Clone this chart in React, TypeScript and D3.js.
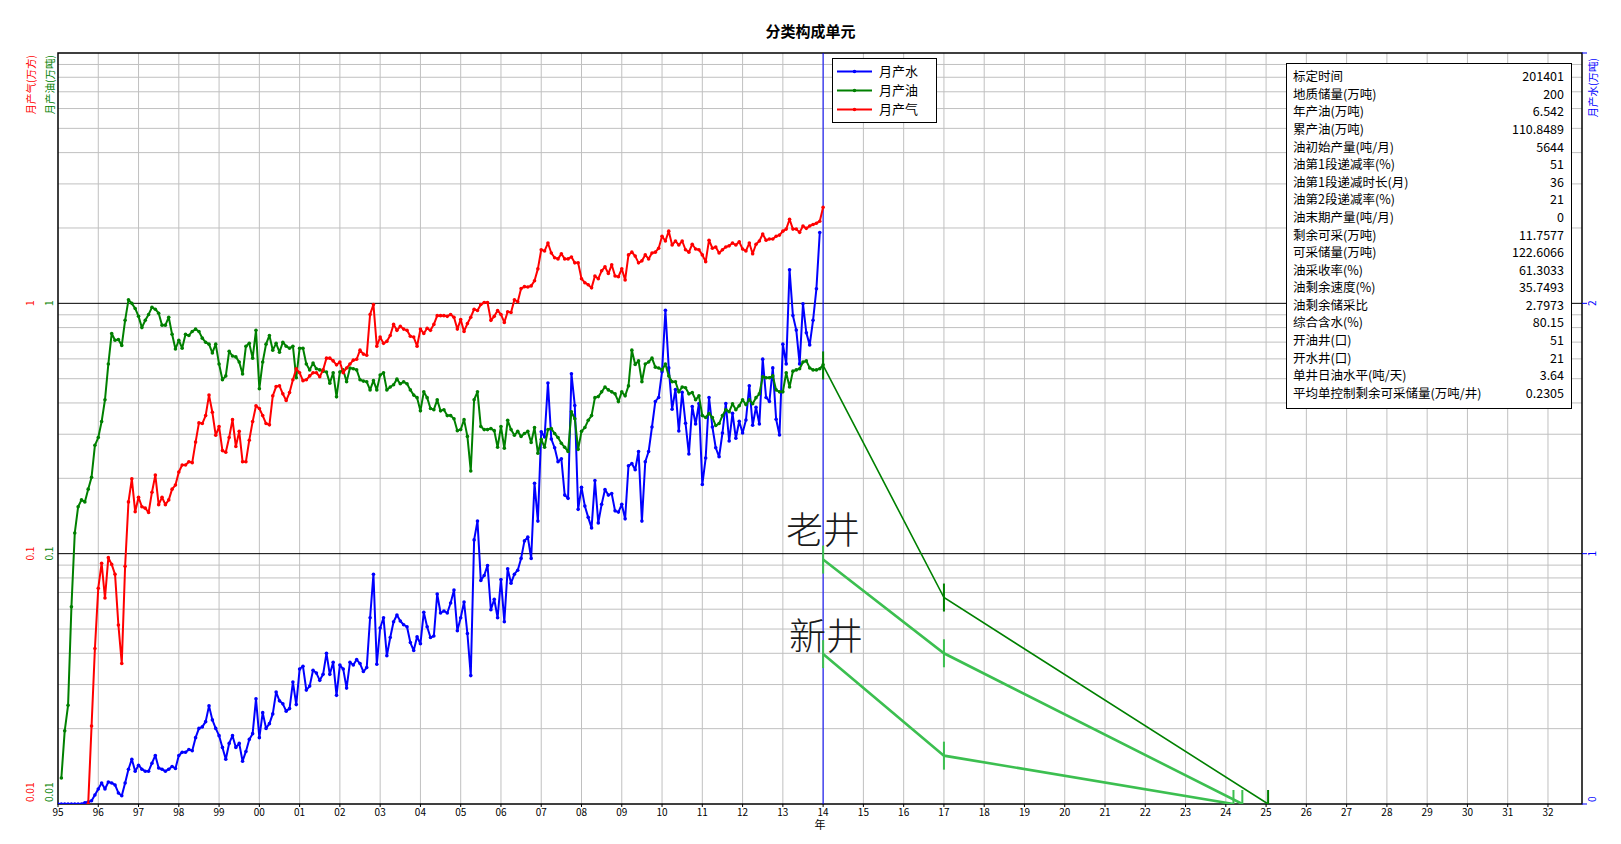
import { useEffect, useRef } from 'react';
import * as d3 from 'd3';

const FONT = '"Noto Sans CJK SC", "Microsoft YaHei", sans-serif';

// monthly series, index 0 = Jan 1995
const waterStart = 0;
const water = [
  0, 0, 0, 0, 0, 0, 0, 0, 0.005,
  0.008, 0.013, 0.036, 0.06, 0.084, 0.06, 0.088, 0.084, 0.076, 0.044, 0.033,
  0.084, 0.139, 0.179, 0.131, 0.155, 0.139, 0.131, 0.131, 0.163, 0.194,
  0.144, 0.139, 0.131, 0.139, 0.15, 0.142, 0.194, 0.207, 0.207, 0.218,
  0.213, 0.265, 0.302, 0.308, 0.329, 0.392, 0.336, 0.302, 0.273, 0.226,
  0.179, 0.242, 0.273, 0.226, 0.242, 0.171, 0.21, 0.258, 0.281, 0.42,
  0.265, 0.365, 0.302, 0.321, 0.36, 0.447, 0.412, 0.4, 0.371, 0.381,
  0.487, 0.397, 0.539, 0.55, 0.455, 0.471, 0.534, 0.523, 0.494, 0.518,
  0.602, 0.518, 0.566, 0.434, 0.555, 0.539, 0.463, 0.566, 0.555, 0.577,
  0.561, 0.529, 0.545, 0.744, 0.918, 0.558, 0.703, 0.744, 0.592, 0.665,
  0.728, 0.755, 0.731, 0.716, 0.708, 0.645, 0.613, 0.668, 0.64, 0.766,
  0.708, 0.665, 0.671, 0.839, 0.763, 0.771, 0.763, 0.803, 0.855, 0.692,
  0.744, 0.807, 0.681, 0.513, 1.055, 1.13, 0.893, 0.913, 0.953, 0.776,
  0.818, 0.744, 0.897, 0.728, 0.94, 0.882, 0.918, 0.934, 0.981, 1.051,
  1.066, 0.981, 1.281, 1.13, 1.487, 1.466, 1.682, 1.458, 1.423, 1.367,
  1.379, 1.234, 1.221, 1.719, 1.592, 1.177, 1.265, 1.19, 1.145, 1.103,
  1.292, 1.123, 1.197, 1.256, 1.234, 1.24, 1.171, 1.166, 1.197, 1.139,
  1.351, 1.36, 1.335, 1.408, 1.13, 1.367, 1.408, 1.506, 1.608, 1.624,
  1.727, 1.972, 1.742, 1.577, 1.656, 1.49, 1.645, 1.521, 1.398, 1.588,
  1.518, 1.6, 1.276, 1.382, 1.624, 1.506, 1.423, 1.387, 1.482, 1.6,
  1.45, 1.561, 1.461, 1.529, 1.482, 1.534, 1.671, 1.513, 1.585, 1.518,
  1.777, 1.624, 1.608, 1.742, 1.537, 1.474, 1.837, 1.758, 2.134, 1.951,
  1.893, 1.758, 1.998, 1.882, 1.834, 1.932, 2.058, 2.283,
];

const oilStart = 1;
const oil = [
  0.0127, 0.0196, 0.0248, 0.0613, 0.121, 0.154, 0.164, 0.161, 0.181, 0.202,
  0.271, 0.291, 0.337, 0.412, 0.572, 0.758, 0.712, 0.717, 0.679, 0.855,
  1.033, 1.0, 0.954, 0.887, 0.8, 0.855, 0.903, 0.964, 0.947, 0.913,
  0.818, 0.818, 0.88, 0.752, 0.657, 0.712, 0.662, 0.752, 0.744, 0.772,
  0.789, 0.772, 0.726, 0.699, 0.687, 0.634, 0.687, 0.572, 0.495, 0.513,
  0.643, 0.616, 0.611, 0.583, 0.522, 0.674, 0.692, 0.604, 0.78, 0.456,
  0.583, 0.687, 0.744, 0.65, 0.692, 0.638, 0.699, 0.674, 0.662, 0.674,
  0.504, 0.662, 0.662, 0.572, 0.542, 0.577, 0.548, 0.542, 0.536, 0.532,
  0.48, 0.528, 0.423, 0.532, 0.542, 0.486, 0.552, 0.548, 0.542, 0.495,
  0.489, 0.486, 0.451, 0.491, 0.451, 0.517, 0.528, 0.451, 0.463, 0.473,
  0.498, 0.477, 0.486, 0.477, 0.451, 0.43, 0.42, 0.372, 0.443, 0.42,
  0.38, 0.376, 0.412, 0.372, 0.376, 0.356, 0.356, 0.346, 0.31, 0.313,
  0.343, 0.294, 0.214, 0.412, 0.443, 0.322, 0.313, 0.313, 0.316, 0.31,
  0.266, 0.322, 0.264, 0.341, 0.313, 0.297, 0.308, 0.294, 0.302, 0.308,
  0.278, 0.319, 0.252, 0.286, 0.266, 0.313, 0.316, 0.302, 0.291, 0.276,
  0.266, 0.256, 0.369, 0.346, 0.261, 0.308, 0.319, 0.341, 0.356, 0.42,
  0.424, 0.443, 0.463, 0.451, 0.443, 0.435, 0.405, 0.443, 0.427, 0.468,
  0.65, 0.57, 0.589, 0.486, 0.572, 0.583, 0.604, 0.556, 0.552, 0.542,
  0.572, 0.513, 0.486, 0.486, 0.443, 0.463, 0.46, 0.435, 0.44, 0.412,
  0.427, 0.356, 0.35, 0.363, 0.35, 0.325, 0.331, 0.356, 0.376, 0.369,
  0.397, 0.376, 0.39, 0.412, 0.394, 0.412, 0.397, 0.42, 0.435, 0.509,
  0.504, 0.504, 0.513, 0.451, 0.443, 0.443, 0.528, 0.463, 0.536, 0.542,
  0.548, 0.583, 0.589, 0.552, 0.542, 0.542, 0.548, 0.568,
];

const gasStart = 9;
const gas = [
  0.01, 0.0205, 0.0418, 0.0728, 0.0916, 0.0665, 0.0964, 0.0906, 0.0827, 0.0519,
  0.0364, 0.089, 0.161, 0.199, 0.147, 0.168, 0.154, 0.152, 0.146, 0.176,
  0.206, 0.157, 0.168, 0.157, 0.164, 0.181, 0.188, 0.212, 0.226, 0.226,
  0.233, 0.231, 0.279, 0.333, 0.331, 0.356, 0.43, 0.367, 0.297, 0.322,
  0.258, 0.254, 0.291, 0.343, 0.268, 0.308, 0.233, 0.233, 0.284, 0.337,
  0.39, 0.38, 0.356, 0.331, 0.327, 0.427, 0.465, 0.468, 0.435, 0.409,
  0.44, 0.495, 0.548, 0.528, 0.491, 0.495, 0.513, 0.528, 0.528, 0.509,
  0.542, 0.604, 0.604, 0.589, 0.568, 0.583, 0.528, 0.552, 0.572, 0.593,
  0.598, 0.65, 0.627, 0.62, 0.903, 0.989, 0.674, 0.733, 0.692, 0.705,
  0.744, 0.824, 0.78, 0.809, 0.789, 0.78, 0.739, 0.733, 0.674, 0.789,
  0.758, 0.795, 0.78, 0.824, 0.893, 0.893, 0.893, 0.887, 0.903, 0.88,
  0.789, 0.861, 0.772, 0.83, 0.88, 0.947, 0.936, 0.989, 1.007, 1.007,
  0.855, 0.887, 0.936, 0.903, 0.839, 0.926, 0.919, 1.033, 1.015, 1.145,
  1.166, 1.162, 1.174, 1.231, 1.373, 1.637, 1.619, 1.741, 1.589, 1.521,
  1.505, 1.578, 1.505, 1.505, 1.532, 1.451, 1.451, 1.254, 1.209, 1.187,
  1.153, 1.286, 1.254, 1.349, 1.399, 1.315, 1.425, 1.286, 1.277, 1.373,
  1.24, 1.561, 1.601, 1.544, 1.451, 1.478, 1.561, 1.505, 1.589, 1.601,
  1.66, 1.853, 1.774, 1.942, 1.709, 1.774, 1.709, 1.774, 1.637, 1.601,
  1.722, 1.648, 1.637, 1.561, 1.467, 1.787, 1.66, 1.679, 1.589, 1.637,
  1.679, 1.697, 1.741, 1.709, 1.761, 1.648, 1.619, 1.741, 1.578, 1.722,
  1.774, 1.893, 1.787, 1.806, 1.806, 1.853, 1.873, 1.942, 1.979, 2.168,
  1.979, 1.979, 1.921, 2.037, 1.993, 2.037, 2.066, 2.09, 2.128, 2.418,
];

// decline forecasts (year, 万吨)
const oldWellYears = [2014, 2017, 2025.05];
const oldWellOil = [0.565, 0.0668, 0.01];
const newWellAYears = [2014, 2017, 2024.41];
const newWellAOil = [0.0947, 0.04, 0.01];
const newWellBYears = [2014, 2017, 2024.19];
const newWellBOil = [0.0397, 0.0156, 0.01];

const yearTicks = d3.range(1995, 2033);
const leftTicks = [0.01, 0.1, 1];
const rightTicks = [0, 1, 2];

const legendNames = ['月产水', '月产油', '月产气'];
const legendColors = ['#0000ff', '#008000', '#ff0000'];

const tableLabels = [
  '标定时间', '地质储量(万吨)', '年产油(万吨)', '累产油(万吨)', '油初始产量(吨/月)',
  '油第1段递减率(%)', '油第1段递减时长(月)', '油第2段递减率(%)', '油末期产量(吨/月)',
  '剩余可采(万吨)', '可采储量(万吨)', '油采收率(%)', '油剩余速度(%)', '油剩余储采比',
  '综合含水(%)', '开油井(口)', '开水井(口)', '单井日油水平(吨/天)', '平均单控制剩余可采储量(万吨/井)',
];
const tableValues = [
  '201401', '200', '6.542', '110.8489', '5644', '51', '36', '21', '0', '11.7577',
  '122.6066', '61.3033', '35.7493', '2.7973', '80.15', '51', '21', '3.64', '0.2305',
];

export default function App() {
  const svgRef = useRef<SVGSVGElement>(null);

  useEffect(() => {
    if (!svgRef.current) return;
    const width = 1621;
    const height = 844;
    const left = 58, right = 1582, top = 53, bottom = 804;

    const svg = d3.select(svgRef.current);
    svg.selectAll('*').remove();
    svg.attr('width', width).attr('height', height).style('font-family', FONT);

    const x = d3.scaleLinear().domain([1995, 2032.845]).range([left, right]);
    const yL = d3.scaleLog().domain([0.01, 10]).range([bottom, top]);
    const yR = d3.scaleLinear().domain([0, 3]).range([bottom, top]);

    svg.append('rect').attr('width', width).attr('height', height).attr('fill', '#fff');

    svg.append('defs').append('clipPath').attr('id', 'plot-clip')
      .append('rect').attr('x', left).attr('y', top).attr('width', right - left).attr('height', bottom - top);

    // Grid
    const grid = svg.append('g');
    grid.selectAll('line.v')
      .data(yearTicks.slice(1))
      .join('line')
      .attr('x1', (d) => x(d)).attr('x2', (d) => x(d))
      .attr('y1', top).attr('y2', bottom)
      .attr('stroke', '#c0c0c0').attr('stroke-width', 1);

    const minor: number[] = [];
    for (const dec of [0.01, 0.1, 1]) for (let k = 2; k <= 9; k++) minor.push(k * dec);
    grid.selectAll('line.h')
      .data(minor)
      .join('line')
      .attr('x1', left).attr('x2', right)
      .attr('y1', (d) => yL(d)).attr('y2', (d) => yL(d))
      .attr('stroke', '#c0c0c0').attr('stroke-width', 1);

    for (const v of [0.1, 1]) {
      grid.append('line')
        .attr('x1', left).attr('x2', right).attr('y1', yL(v)).attr('y2', yL(v))
        .attr('stroke', '#000').attr('stroke-width', 1);
    }

    // Border
    svg.append('rect')
      .attr('x', left).attr('y', top).attr('width', right - left).attr('height', bottom - top)
      .attr('fill', 'none').attr('stroke', '#000').attr('stroke-width', 1.5);

    // 2014 marker line
    svg.append('line')
      .attr('x1', x(2014)).attr('x2', x(2014)).attr('y1', top).attr('y2', bottom)
      .attr('stroke', '#0000ff').attr('stroke-width', 1);

    // X axis ticks & labels
    const xa = svg.append('g');
    xa.selectAll('line')
      .data(yearTicks)
      .join('line')
      .attr('x1', (d) => x(d)).attr('x2', (d) => x(d))
      .attr('y1', bottom).attr('y2', bottom + 3)
      .attr('stroke', '#000');
    xa.selectAll('text')
      .data(yearTicks)
      .join('text')
      .attr('x', (d) => x(d))
      .attr('y', bottom + 12)
      .attr('text-anchor', 'middle')
      .style('font-size', '10px')
      .text((d) => String(d % 100).padStart(2, '0'));
    svg.append('text')
      .attr('x', (left + right) / 2).attr('y', 829)
      .attr('text-anchor', 'middle').style('font-size', '11px').text('年');

    // Left tick labels (gas red, oil green)
    const leftAxes = [
      { x: 34, color: '#ff0000', title: '月产气(万方)' },
      { x: 53, color: '#008000', title: '月产油(万吨)' },
    ];
    for (const a of leftAxes) {
      for (const v of leftTicks) {
        const isBottom = v === 0.01;
        svg.append('text')
          .attr('transform', `translate(${a.x},${isBottom ? bottom - 2 : yL(v)}) rotate(-90)`)
          .attr('text-anchor', isBottom ? 'start' : 'middle')
          .attr('fill', a.color)
          .style('font-size', '10px')
          .text(String(v));
      }
      svg.append('text')
        .attr('transform', `translate(${a.x + 1},55) rotate(-90)`)
        .attr('text-anchor', 'end')
        .attr('fill', a.color)
        .style('font-size', '10.5px')
        .text(a.title);
    }

    // Right axis (water, linear)
    svg.selectAll('line.rt')
      .data([0, 1, 2, 3])
      .join('line')
      .attr('x1', right).attr('x2', right + 5)
      .attr('y1', (d) => yR(d)).attr('y2', (d) => yR(d))
      .attr('stroke', '#0000ff');
    for (const v of rightTicks) {
      const isBottom = v === 0;
      svg.append('text')
        .attr('transform', `translate(1596,${isBottom ? bottom - 2 : yR(v)}) rotate(-90)`)
        .attr('text-anchor', isBottom ? 'start' : 'middle')
        .attr('fill', '#0000ff')
        .style('font-size', '10px')
        .text(String(v));
    }
    svg.append('text')
      .attr('transform', 'translate(1597,58) rotate(-90)')
      .attr('text-anchor', 'end')
      .attr('fill', '#0000ff')
      .style('font-size', '10.5px')
      .text('月产水(万吨)');

    // Title
    svg.append('text')
      .attr('x', width / 2).attr('y', 37)
      .attr('text-anchor', 'middle')
      .style('font-size', '15px').style('font-weight', 'bold')
      .text('分类构成单元');

    // Series
    const plot = svg.append('g').attr('clip-path', 'url(#plot-clip)');
    const tYear = (t: number) => 1995 + t / 12;

    const series = [
      { data: water, start: waterStart, color: '#0000ff', y: yR },
      { data: oil, start: oilStart, color: '#008000', y: yL },
      { data: gas, start: gasStart, color: '#ff0000', y: yL },
    ];
    for (const s of series) {
      const pts = s.data.map((v, i) => [x(tYear(s.start + i)), s.y(v)] as [number, number]);
      plot.append('path')
        .attr('d', d3.line()(pts))
        .attr('fill', 'none').attr('stroke', s.color).attr('stroke-width', 2)
        .attr('stroke-linejoin', 'round');
      plot.append('g').selectAll('circle')
        .data(pts)
        .join('circle')
        .attr('cx', (d) => d[0]).attr('cy', (d) => d[1]).attr('r', 1.8)
        .attr('fill', s.color);
    }

    // Forecasts
    const forecasts = [
      { years: oldWellYears, vals: oldWellOil, color: '#008000', w: 1.6 },
      { years: newWellAYears, vals: newWellAOil, color: '#3cbf50', w: 2.6 },
      { years: newWellBYears, vals: newWellBOil, color: '#3cbf50', w: 2.6 },
    ];
    for (const f of forecasts) {
      const pts = f.years.map((yr, i) => [x(yr), yL(f.vals[i])] as [number, number]);
      plot.append('path')
        .attr('d', d3.line()(pts))
        .attr('fill', 'none').attr('stroke', f.color).attr('stroke-width', f.w);
      plot.append('g').selectAll('line')
        .data(pts)
        .join('line')
        .attr('x1', (d) => d[0]).attr('x2', (d) => d[0])
        .attr('y1', (d) => d[1] - 14).attr('y2', (d) => d[1] + 14)
        .attr('stroke', f.color).attr('stroke-width', 2);
    }

    svg.append('text')
      .attr('x', 786).attr('y', 544)
      .attr('fill', '#1a1a1a').style('font-size', '37px').style('font-weight', 300)
      .text('老井');
    svg.append('text')
      .attr('x', 789).attr('y', 650)
      .attr('fill', '#1a1a1a').style('font-size', '37px').style('font-weight', 300)
      .text('新井');

    // Legend
    const lg = svg.append('g');
    lg.append('rect')
      .attr('x', 832.5).attr('y', 58.5).attr('width', 104).attr('height', 64)
      .attr('fill', '#fff').attr('stroke', '#000');
    legendNames.forEach((name, i) => {
      const ly = 71.5 + i * 19;
      lg.append('line').attr('x1', 837).attr('x2', 872).attr('y1', ly).attr('y2', ly)
        .attr('stroke', legendColors[i]).attr('stroke-width', 2);
      lg.append('circle').attr('cx', 854.5).attr('cy', ly).attr('r', 1.8).attr('fill', legendColors[i]);
      lg.append('text').attr('x', 879).attr('y', ly + 4.5)
        .style('font-size', '13px').text(name);
    });

    // Info table
    const tb = svg.append('g');
    tb.append('rect')
      .attr('x', 1286.5).attr('y', 63.5).attr('width', 285).attr('height', 345)
      .attr('fill', '#fff').attr('stroke', '#000');
    tableLabels.forEach((lab, i) => {
      const ty = 76.7 + i * 17.59 + 4.5;
      tb.append('text').attr('x', 1293).attr('y', ty).style('font-size', '12.5px').text(lab);
      tb.append('text').attr('x', 1564).attr('y', ty).attr('text-anchor', 'end')
        .style('font-size', '12.5px').text(tableValues[i]);
    });
  }, []);

  return (
    <div style={{ position: 'absolute', left: 0, top: 0, width: 1621, height: 844 }}>
      <svg ref={svgRef} style={{ display: 'block' }} />
    </div>
  );
}
